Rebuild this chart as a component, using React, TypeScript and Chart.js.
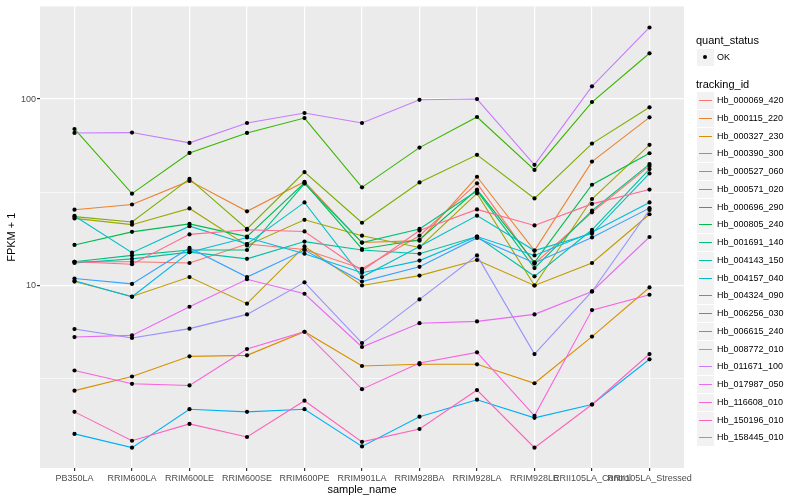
import React, { useEffect, useRef } from 'react';
import { Chart, registerables } from 'chart.js';

Chart.register(...registerables);

const samples = [
  'PB350LA', 'RRIM600LA', 'RRIM600LE', 'RRIM600SE', 'RRIM600PE', 'RRIM901LA',
  'RRIM928BA', 'RRIM928LA', 'RRIM928LE', 'RRII105LA_Control', 'RRII105LA_Stressed',
];

const trackingIds = [
  'Hb_000069_420', 'Hb_000115_220', 'Hb_000327_230', 'Hb_000390_300', 'Hb_000527_060',
  'Hb_000571_020', 'Hb_000696_290', 'Hb_000805_240', 'Hb_001691_140', 'Hb_004143_150',
  'Hb_004157_040', 'Hb_004324_090', 'Hb_006256_030', 'Hb_006615_240', 'Hb_008772_010',
  'Hb_011671_100', 'Hb_017987_050', 'Hb_116608_010', 'Hb_150196_010', 'Hb_158445_010',
];

const lineColors = [
  '#F8766D', '#EA8331', '#D89000', '#C09B00', '#A3A500',
  '#7CAE00', '#39B600', '#00BB4E', '#00BF7D', '#00C1A3',
  '#00BFC4', '#00BAE0', '#00B0F6', '#35A2FF', '#9590FF',
  '#C77CFF', '#E76BF3', '#FA62DB', '#FF62BC', '#FF6C91',
];

const hb000069 = [13.4, 13.4, 13.2, 16.7, 15.6, 12.3, 18.5, 35.3, 13.1, 24.7, 43.8];
const hb000115 = [25.5, 27.2, 36.4, 25.0, 36.0, 17.0, 17.4, 38.3, 15.4, 46.2, 79.8];
const hb000327 = [2.73, 3.25, 4.17, 4.22, 5.65, 3.70, 3.78, 3.78, 2.99, 5.32, 9.76];
const hb000390 = [10.5, 8.73, 11.1, 7.99, 16.2, 10.0, 11.3, 13.7, 10.0, 13.2, 24.1];
const hb000527 = [22.9, 21.2, 25.9, 16.4, 22.5, 18.5, 16.0, 31.2, 10.0, 29.1, 56.8];
const hb000571 = [23.4, 21.9, 37.3, 20.1, 40.6, 21.7, 35.7, 50.2, 29.3, 57.7, 90.3];
const hb000696 = [69.1, 31.1, 51.4, 65.8, 79.1, 33.6, 54.9, 80.1, 41.7, 96.4, 176];
const hb000805 = [16.5, 19.4, 21.4, 18.3, 35.5, 15.7, 17.6, 32.7, 13.3, 34.7, 51.2];
const hb001691 = [13.4, 14.5, 15.5, 15.5, 35.2, 17.0, 20.1, 32.2, 12.4, 25.2, 44.8];
const hb004143 = [13.2, 13.9, 15.1, 13.9, 17.2, 15.5, 14.8, 18.3, 11.2, 19.9, 42.1];
const hb004157 = [23.6, 15.0, 20.8, 16.7, 27.9, 11.1, 16.2, 23.7, 15.4, 19.0, 39.9];
const hb004324 = [10.6, 8.7, 15.1, 18.1, 14.8, 11.7, 13.6, 18.3, 14.5, 19.3, 27.9];
const hb006256 = [1.60, 1.35, 2.17, 2.10, 2.17, 1.37, 1.98, 2.44, 1.95, 2.30, 4.02];
const hb006615 = [10.9, 10.2, 15.9, 11.1, 15.5, 10.5, 12.6, 18.0, 13.2, 18.1, 26.0];
const hb008772 = [5.84, 5.23, 5.87, 7.00, 10.4, 4.91, 8.42, 14.5, 4.29, 9.29, 25.4];
const hb011671 = [65.8, 66.1, 58.2, 74.4, 84.2, 74.4, 99.1, 100, 44.4, 117, 242];
const hb017987 = [5.29, 5.40, 7.69, 10.8, 9.03, 4.68, 6.28, 6.42, 7.00, 9.29, 18.2];
const hb116608 = [3.50, 2.97, 2.91, 4.56, 5.65, 2.78, 3.84, 4.38, 2.00, 7.38, 8.92];
const hb150196 = [2.10, 1.47, 1.81, 1.54, 2.41, 1.45, 1.70, 2.75, 1.35, 2.30, 4.29];
const hb158445 = [13.4, 13.0, 18.8, 19.9, 19.5, 12.0, 19.7, 25.6, 21.0, 27.4, 32.7];

const seriesValues = [
  hb000069, hb000115, hb000327, hb000390, hb000527, hb000571, hb000696, hb000805,
  hb001691, hb004143, hb004157, hb004324, hb006256, hb006615, hb008772, hb011671,
  hb017987, hb116608, hb150196, hb158445,
];

const yMajorTicks = [10, 100];
const yMinorTicks = [3.162, 31.62];
const yMin = 1.05;
const yMax = 314;

const FONT = '"Liberation Sans", Arial, Helvetica, sans-serif';

const panelBg = {
  id: 'panelBg',
  beforeDraw(chart: any) {
    const { ctx, chartArea } = chart;
    ctx.save();
    ctx.fillStyle = '#EBEBEB';
    ctx.fillRect(chartArea.left, chartArea.top, chartArea.right - chartArea.left, chartArea.bottom - chartArea.top);
    ctx.restore();
  },
};

const isMajorY = (v: number) => yMajorTicks.some((m) => Math.abs(m - v) < 1e-6);

export default function App() {
  const canvasRef = useRef<HTMLCanvasElement>(null);

  useEffect(() => {
    document.body.style.margin = '0';
    const canvas = canvasRef.current;
    if (!canvas) return;

    const toPoints = (vals: number[]) => vals.map((v, i) => ({ x: i, y: v }));

    const lineSets = seriesValues
      .map((vals, k) => ({
        label: trackingIds[k],
        data: toPoints(vals),
        borderColor: lineColors[k],
        backgroundColor: lineColors[k],
        borderWidth: 1.1,
        pointRadius: 0,
        showLine: true,
        fill: false,
        tension: 0,
        order: 1,
      }))
      .reverse();

    const pointSets = seriesValues.map((vals, k) => ({
      label: trackingIds[k] + ' OK',
      data: toPoints(vals),
      showLine: false,
      pointRadius: 2.1,
      pointBackgroundColor: '#000000',
      pointBorderWidth: 0,
      pointStyle: 'circle',
      order: 0,
    }));

    const chart = new Chart(canvas, {
      type: 'scatter',
      data: { datasets: [...pointSets, ...lineSets] as any },
      plugins: [panelBg],
      options: {
        animation: false,
        responsive: false,
        devicePixelRatio: 1,
        layout: { padding: { left: 0, top: 5, right: 116, bottom: 0 } },
        plugins: {
          legend: { display: false },
          tooltip: { enabled: false },
        },
        scales: {
          x: {
            type: 'linear',
            min: -0.6,
            max: samples.length - 1 + 0.6,
            border: { display: false },
            afterBuildTicks: (scale: any) => {
              scale.ticks = samples.map((_, i) => ({ value: i }));
            },
            afterFit: (scale: any) => {
              scale.height = 32;
            },
            grid: {
              color: '#FFFFFF',
              lineWidth: 1.2,
              tickLength: 3,
              tickColor: '#333333',
            },
            ticks: {
              autoSkip: false,
              maxRotation: 0,
              minRotation: 0,
              padding: 2,
              color: '#4D4D4D',
              font: { family: FONT, size: 9 },
              callback: (v: any) => samples[Number(v)] ?? '',
            },
            title: {
              display: true,
              text: 'sample_name',
              color: '#000000',
              font: { family: FONT, size: 11 },
              padding: { top: 0, bottom: 3 },
            },
          },
          y: {
            type: 'logarithmic',
            min: yMin,
            max: yMax,
            border: { display: false },
            afterBuildTicks: (scale: any) => {
              scale.ticks = [...yMinorTicks, ...yMajorTicks]
                .sort((a, b) => a - b)
                .map((v) => ({ value: v }));
            },
            afterFit: (scale: any) => {
              scale.width = 40;
            },
            grid: {
              color: '#FFFFFF',
              lineWidth: (ctx: any) => (ctx.tick && isMajorY(ctx.tick.value) ? 1.2 : 0.6),
              tickLength: 3,
              tickColor: (ctx: any) => (ctx.tick && isMajorY(ctx.tick.value) ? '#333333' : 'rgba(0,0,0,0)'),
            },
            ticks: {
              padding: 1,
              color: '#4D4D4D',
              font: { family: FONT, size: 9 },
              callback: (v: any) => (isMajorY(Number(v)) ? String(v) : ''),
            },
            title: {
              display: true,
              text: 'FPKM + 1',
              color: '#000000',
              font: { family: FONT, size: 11 },
              padding: { top: 5, bottom: 0 },
            },
          },
        },
      } as any,
    });

    return () => chart.destroy();
  }, []);

  const itemTop0 = 101;
  const itemStep = 17.75;

  return (
    <div style={{ position: 'absolute', left: 0, top: 0, width: 800, height: 500, background: '#FFFFFF', fontFamily: FONT, overflow: 'hidden' }}>
      <canvas ref={canvasRef} width={800} height={500} style={{ position: 'absolute', left: 0, top: 0, width: 800, height: 500 }} />
      <div style={{ position: 'absolute', left: 696, top: 34, fontSize: 11, lineHeight: '13px', color: '#000' }}>quant_status</div>
      <div style={{ position: 'absolute', left: 697, top: 49, width: 17, height: 17, background: '#F2F2F2' }}>
        <div style={{ position: 'absolute', left: 6, top: 6, width: 4, height: 4, borderRadius: 2, background: '#000' }} />
      </div>
      <div style={{ position: 'absolute', left: 717, top: 51, fontSize: 9, lineHeight: '12px', color: '#000' }}>OK</div>
      <div style={{ position: 'absolute', left: 696, top: 78, fontSize: 11, lineHeight: '13px', color: '#000' }}>tracking_id</div>
      {trackingIds.map((id, k) => {
        const cy = Math.round(itemTop0 + k * itemStep);
        return (
          <React.Fragment key={id}>
            <div style={{ position: 'absolute', left: 697, top: cy - 9, width: 17, height: 17, background: '#F2F2F2' }}>
              <div style={{ position: 'absolute', left: 2, top: 8, width: 13, height: 1, background: lineColors[k] }} />
            </div>
            <div style={{ position: 'absolute', left: 717, top: cy - 7, fontSize: 9, lineHeight: '12px', color: '#000', whiteSpace: 'nowrap' }}>{id}</div>
          </React.Fragment>
        );
      })}
    </div>
  );
}
